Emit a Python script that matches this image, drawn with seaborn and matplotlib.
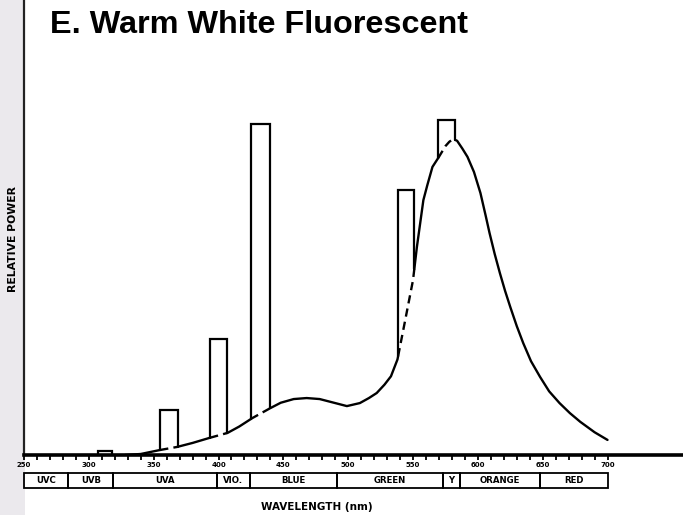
import numpy as np
import matplotlib
matplotlib.use("Agg")
import matplotlib.pyplot as plt
from matplotlib.patches import Rectangle
from matplotlib.transforms import blended_transform_factory
import seaborn as sns

# Continuous phosphor emission (nm, relative power)
curve_nm = [328, 340, 355, 368, 380, 393, 407, 416, 426, 440, 448, 458, 468,
            478, 489, 499, 509, 516, 522, 528, 533, 538, 544, 550, 553, 558,
            561, 565, 570, 575, 578, 581, 584, 588, 592, 597, 602, 606, 609,
            613, 617, 621, 625, 630, 635, 641, 648, 655, 663, 671, 679, 690,
            700]
curve_val = [0.0, 0.3, 1.5, 2.4, 3.6, 5.1, 6.6, 8.5, 11.0, 14.0, 15.6, 16.7,
             17.0, 16.7, 15.6, 14.6, 15.5, 17.0, 18.5, 21.0, 23.5, 28.5, 40.3,
             52.2, 62.1, 76.1, 80.5, 86.0, 89.0, 92.2, 93.5, 94.3, 93.8, 91.5,
             89.0, 84.5, 78.2, 71.5, 66.3, 60.0, 54.3, 49.0, 44.2, 38.5, 33.4,
             28.0, 23.3, 19.0, 15.5, 12.5, 9.9, 6.8, 4.5]

# Mercury line bands drawn as open bars standing on the continuum
bar_left = [307, 355, 393.5, 425, 538.5, 569.5]
bar_right = [318, 369, 406.5, 440, 551, 582.5]
bar_top = [1.2, 13.4, 34.6, 98.8, 79.1, 100.0]

# Spectral regions under the axis
band_names = ["UVC", "UVB", "UVA", "VIO.", "BLUE", "GREEN", "Y", "ORANGE", "RED"]
band_edges = [250, 284, 319, 399, 424, 491, 573, 586, 648, 700]

tick_values = [250, 300, 350, 400, 450, 500, 550, 600, 650, 700]

sns.set_theme(style="white")
plt.rcParams["font.family"] = ["Liberation Sans", "DejaVu Sans"]
plt.rcParams["text.color"] = "black"
plt.rcParams["xtick.color"] = "black"
plt.rcParams["xtick.labelcolor"] = "black"

small = {"family": ["DejaVu Sans"], "fontweight": "bold", "color": "black"}

fig = plt.figure(figsize=(6.83, 5.15), dpi=100)
fig.patches.append(Rectangle((0, 0), 25 / 683, 1, transform=fig.transFigure,
                             facecolor="#ebe9ed", edgecolor="none",
                             zorder=-10))

ax = fig.add_axes([24 / 683, 1 - 455 / 515, 1 - 24 / 683, 455 / 515])
ax.set_facecolor("none")
ax.set_xlim(250, 250 + 659 / 1.2967)
ax.set_ylim(0, 455 / 3.35)

# Split the continuum into solid pieces and dashed pieces hidden behind bars
cx = np.array(curve_nm, dtype=float)
cy = np.array(curve_val, dtype=float)
edges = sorted(e for e in bar_left + bar_right if cx[0] < e < cx[-1])
cuts = [cx[0]] + edges + [cx[-1]]
for a, b in zip(cuts[:-1], cuts[1:]):
    inside = any(l <= a and b <= r for l, r in zip(bar_left, bar_right))
    xs = np.concatenate(([a], cx[(cx > a) & (cx < b)], [b]))
    ys = np.interp(xs, cx, cy)
    sns.lineplot(x=xs, y=ys, ax=ax, color="black", lw=1.7, sort=False,
                 estimator=None, linestyle=(0, (3.5, 2.2)) if inside else "-")

for l, r, t in zip(bar_left, bar_right, bar_top):
    bl = np.interp(l, cx, cy, left=0.0)
    br = np.interp(r, cx, cy, left=0.0)
    ax.plot([l, l, r, r], [bl, t, t, br], color="black", lw=1.6,
            solid_joinstyle="miter")

sns.despine(ax=ax, top=True, right=True)
ax.spines["bottom"].set_linewidth(2.6)
ax.spines["bottom"].set_color("black")
ax.spines["left"].set_linewidth(1.6)
ax.spines["left"].set_color("#222222")
ax.set_yticks([])
ax.set_xticks(tick_values)
ax.set_xticks(np.arange(250, 701, 10), minor=True)
ax.set_xticklabels([str(v) for v in tick_values], fontsize=5, **small)
ax.tick_params(axis="x", which="both", direction="out", length=3.5, width=1.3,
               color="black", pad=1.5, bottom=True)
ax.set_xlabel("")
ax.set_ylabel("")

# Region boxes
trans = blended_transform_factory(ax.transData, fig.transFigure)
y0 = 1 - 488 / 515
h = (488 - 473) / 515
for name, a, b in zip(band_names, band_edges[:-1], band_edges[1:]):
    ax.add_patch(Rectangle((a, y0), b - a, h, transform=trans, fill=False,
                           edgecolor="black", lw=1.3, clip_on=False))
    ax.text((a + b) / 2, y0 + h / 2, name, transform=trans, ha="center",
            va="center", fontsize=6.2, clip_on=False, **small)

fig.text(50 / 683, 1 - 33 / 515, "E. Warm White Fluorescent", fontsize=23.3,
         fontweight="bold", color="black", ha="left", va="baseline")
fig.text(13 / 683, 1 - 239 / 515, "RELATIVE POWER", rotation=90, fontsize=7.8,
         ha="center", va="center", **small)
fig.text(317 / 683, 1 - 507 / 515, "WAVELENGTH (nm)", fontsize=7.5,
         ha="center", va="center", **small)

fig.savefig("out.png", dpi=100)
